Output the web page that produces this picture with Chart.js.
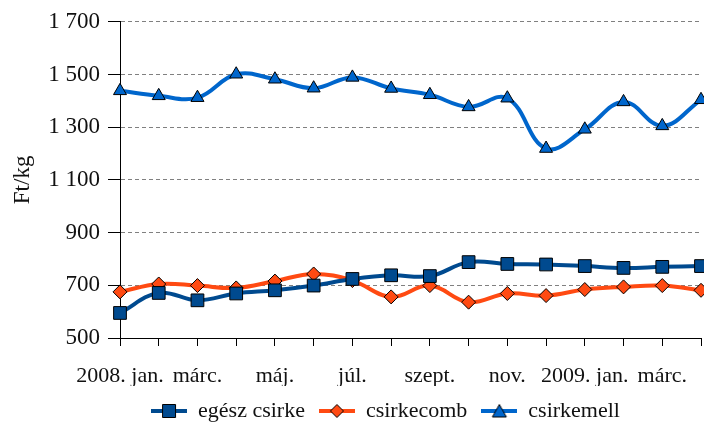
<!DOCTYPE html>
<html>
<head>
<meta charset="utf-8">
<script src="https://cdn.jsdelivr.net/npm/chart.js@4/dist/chart.umd.min.js"></script>
<style>
  body { margin: 0; background: #fff; }
  #wrap { width: 704px; height: 422px; position: relative; }
</style>
</head>
<body>
<div id="wrap"><canvas id="priceChart"></canvas></div>
<script>
const months = ['2008. jan.', 'febr.', 'márc.', 'ápr.', 'máj.', 'jún.', 'júl.', 'aug.',
  'szept.', 'okt.', 'nov.', 'dec.', '2009. jan.', 'febr.', 'márc.', 'ápr.'];

const egeszCsirke = [595, 671, 643, 669, 681, 699, 724, 738, 735, 788, 781, 779, 773, 766, 770, 773];
const csirkecomb = [675, 705, 699, 690, 716, 743, 718, 656, 699, 636, 669, 661, 684, 694, 699, 681];
const csirkemell = [1438, 1419, 1412, 1501, 1482, 1448, 1489, 1447, 1423, 1377, 1410, 1219, 1292, 1396, 1305, 1404];

const yTicks = [500, 700, 900, 1100, 1300, 1500, 1700];

const serif = 'Liberation Serif, DejaVu Serif, serif';

// legend marker: short line with the point shape on it
function legendIcon(color, shape) {
  const c = document.createElement('canvas');
  c.width = 36; c.height = 16;
  const g = c.getContext('2d');
  g.strokeStyle = color;
  g.lineWidth = 4;
  g.beginPath(); g.moveTo(0, 8); g.lineTo(36, 8); g.stroke();
  g.fillStyle = color;
  g.strokeStyle = '#000';
  g.lineWidth = 1;
  g.beginPath();
  if (shape === 'rect') {
    g.rect(11.5, 1.5, 13, 13);
  } else if (shape === 'rectRot') {
    g.moveTo(18, 1.5); g.lineTo(24.5, 8); g.lineTo(18, 14.5); g.lineTo(11.5, 8); g.closePath();
  } else {
    g.moveTo(18, 1.5); g.lineTo(25, 14); g.lineTo(11, 14); g.closePath();
  }
  g.fill(); g.stroke();
  return c;
}

// the legend sits a bit right of the page centre in the original
const legendShift = {
  id: 'legendShift',
  afterLayout(chart) {
    chart.legend.left += 35;
    chart.legend.right += 35;
  }
};

const ctx = document.getElementById('priceChart');

new Chart(ctx, {
  type: 'line',
  plugins: [legendShift],
  data: {
    labels: months,
    datasets: [{
      label: 'egész csirke',
      data: egeszCsirke,
      borderColor: '#004A8F',
      backgroundColor: '#004A8F',
      borderWidth: 4,
      tension: 0.4,
      pointStyle: 'rect',
      pointRadius: 9,
      pointBorderColor: '#000',
      pointBorderWidth: 1,
      icon: legendIcon('#004A8F', 'rect'),
    }, {
      label: 'csirkecomb',
      data: csirkecomb,
      borderColor: '#FF4A12',
      backgroundColor: '#FF4A12',
      borderWidth: 4,
      tension: 0.4,
      pointStyle: 'rectRot',
      pointRadius: 7,
      pointBorderColor: '#000',
      pointBorderWidth: 1,
      icon: legendIcon('#FF4A12', 'rectRot'),
    }, {
      label: 'csirkemell',
      data: csirkemell,
      borderColor: '#0066CC',
      backgroundColor: '#0066CC',
      borderWidth: 4,
      tension: 0.4,
      pointStyle: 'triangle',
      pointRadius: 7.5,
      pointBorderColor: '#000',
      pointBorderWidth: 1,
      icon: legendIcon('#0066CC', 'triangle'),
    }]
  },
  options: {
    responsive: true,
    maintainAspectRatio: false,
    animation: false,
    layout: { autoPadding: false, padding: { top: 8, right: 3, left: 0, bottom: -10 } },
    plugins: {
      tooltip: { enabled: false },
      legend: {
        position: 'bottom',
        labels: {
          usePointStyle: true,
          pointStyleWidth: 36,
          padding: 14,
          color: '#111',
          font: { family: serif, size: 22 },
          generateLabels(chart) {
            const items = Chart.defaults.plugins.legend.labels.generateLabels(chart);
            items.forEach(it => { it.pointStyle = chart.data.datasets[it.datasetIndex].icon; });
            return items;
          }
        }
      }
    },
    scales: {
      x: {
        offset: false,
        grid: { drawOnChartArea: false, drawTicks: true, tickLength: 8, tickColor: '#000' },
        border: { color: '#000', width: 1 },
        ticks: {
          autoSkip: false,
          maxRotation: 0,
          padding: 17,
          color: '#111',
          font: { family: serif, size: 22 },
          callback(v, i) { return i % 2 === 0 ? months[i] : ''; }
        },
        afterFit(scale) { scale.height = 48; scale.paddingRight = 0; }
      },
      y: {
        min: 500,
        max: 1700,
        afterBuildTicks(scale) { scale.ticks = yTicks.map(v => ({ value: v })); },
        grid: { color: '#808080', tickLength: 12, tickColor: '#000', lineWidth: 1 },
        border: { color: '#000', width: 1, dash: [4, 3] },
        ticks: {
          padding: 8,
          color: '#111',
          font: { family: serif, size: 23 },
          callback(v) {
            return v >= 1000 ? Math.floor(v / 1000) + ' ' + String(v % 1000).padStart(3, '0') : String(v);
          }
        },
        title: {
          display: true,
          text: 'Ft/kg',
          color: '#111',
          font: { family: serif, size: 23 },
          padding: { top: 9, bottom: 0 }
        },
        afterFit(scale) { scale.width = 120; }
      }
    }
  }
});
</script>
</body>
</html>
